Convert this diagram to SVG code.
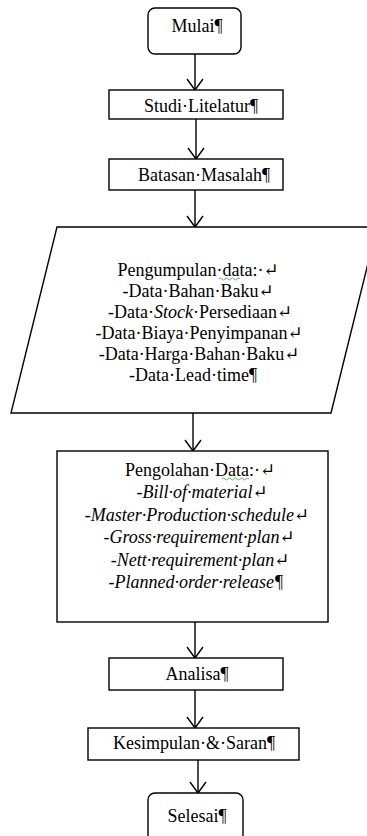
<svg xmlns="http://www.w3.org/2000/svg" width="367" height="836" viewBox="0 0 367 836">
<style>
.s{fill:#fff;stroke:#000;stroke-width:1.4}
.t{font-family:"Liberation Serif","DejaVu Serif",serif;font-size:18px;fill:#000;text-anchor:middle;dominant-baseline:central}
.i{font-style:italic}
.c{stroke:#000;stroke-width:1.4;fill:none}
.w{stroke:#3a9a3a;stroke-width:0.8;fill:none}
</style>
<defs>
<marker id="ah" markerUnits="userSpaceOnUse" markerWidth="20" markerHeight="20" viewBox="0 0 20 20" refX="12" refY="10" orient="auto">
<path d="M1,2 L12,10 L1,18" fill="none" stroke="#000" stroke-width="1.4"/>
</marker>
</defs>
<rect width="367" height="836" fill="#fff"/>
<g id="connectors">
<line class="c" x1="195" y1="54" x2="195" y2="90" marker-end="url(#ah)"/>
<line class="c" x1="196" y1="119" x2="196" y2="159" marker-end="url(#ah)"/>
<line class="c" x1="195" y1="190" x2="195" y2="227" marker-end="url(#ah)"/>
<line class="c" x1="193" y1="413" x2="193" y2="451" marker-end="url(#ah)"/>
<line class="c" x1="195" y1="622" x2="195" y2="658" marker-end="url(#ah)"/>
<line class="c" x1="195" y1="690" x2="195" y2="728" marker-end="url(#ah)"/>
<line class="c" x1="198" y1="760" x2="198" y2="793" marker-end="url(#ah)"/>
</g>
<g id="mulai">
<rect class="s" x="148" y="8" width="93" height="46" rx="7"/>
<text class="t" x="197" y="26">Mulai¶</text>
</g>
<g id="studi">
<rect class="s" x="109" y="90" width="174" height="29"/>
<text class="t" x="201" y="106">Studi·Litelatur¶</text>
</g>
<g id="batasan">
<rect class="s" x="109" y="159" width="174" height="31"/>
<text class="t" x="204" y="175">Batasan·Masalah¶</text>
</g>
<g id="pengumpulan">
<polygon class="s" points="57,227 377,227 331,413 11,413"/>
<text class="t" x="198" y="270">Pengumpulan·data:·↵</text>
<path class="w" d="M219,279 q1.5,-2 3,0 t3,0 t3,0 t3,0 t3,0 t3,0 t3,0"/>
<text class="t" x="198" y="291">-Data·Bahan·Baku↵</text>
<text class="t" x="200" y="312">-Data·<tspan class="i">Stock</tspan>·Persediaan↵</text>
<text class="t" x="199" y="333">-Data·Biaya·Penyimpanan↵</text>
<text class="t" x="199" y="354">-Data·Harga·Bahan·Baku↵</text>
<text class="t" x="193" y="375">-Data·Lead·time¶</text>
</g>
<g id="pengolahan">
<rect class="s" x="57" y="451" width="271" height="171"/>
<text class="t" x="200" y="470">Pengolahan·Data:·↵</text>
<path class="w" d="M222,479 q1.5,-2 3,0 t3,0 t3,0 t3,0 t3,0 t3,0 t3,0 t3,0 t3,0"/>
<text class="t i" x="202" y="492">-Bill·of·material↵</text>
<text class="t i" x="197" y="515">-Master·Production·schedule↵</text>
<text class="t i" x="199" y="537">-Gross·requirement·plan↵</text>
<text class="t i" x="200" y="560">-Nett·requirement·plan↵</text>
<text class="t i" x="196" y="582">-Planned·order·release¶</text>
</g>
<g id="analisa">
<rect class="s" x="109" y="658" width="174" height="32"/>
<text class="t" x="197" y="674">Analisa¶</text>
</g>
<g id="kesimpulan">
<rect class="s" x="88" y="728" width="211" height="32"/>
<text class="t" x="194" y="743">Kesimpulan·&amp;·Saran¶</text>
</g>
<g id="selesai">
<rect class="s" x="148" y="793" width="95" height="52" rx="7"/>
<text class="t" x="197" y="816">Selesai¶</text>
</g>
</svg>
